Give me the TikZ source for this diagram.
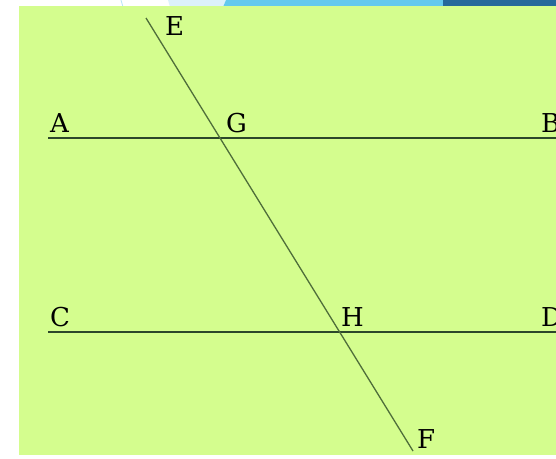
\documentclass[tikz,border=0pt]{standalone}
\usepackage{fontspec}
\setmainfont{DejaVu Serif}
\begin{document}
\begin{tikzpicture}[x=1pt,y=-1pt,
  lbl/.style={anchor=base west,inner sep=0pt,font=\fontsize{26}{26}\selectfont,text=black},
  parline/.style={draw=hline,line width=1.8pt},
  transline/.style={draw=tline,line width=1.3pt}]
\definecolor{bg}{HTML}{D4FD8E}
\definecolor{hline}{HTML}{2C472A}
\definecolor{tline}{HTML}{4F6E3A}
\definecolor{paleblue}{HTML}{DCF1FB}
\definecolor{midblue}{HTML}{62C9EE}
\definecolor{darkblue}{HTML}{25699B}
\useasboundingbox (0,0) rectangle (556,458);
\fill[white] (0,0) rectangle (556,458);
% top decoration
\fill[paleblue] (168,0) -- (226,0) -- (223,7) -- (170,7) -- cycle;
\fill[midblue] (226,0) -- (443,0) -- (443,7) -- (223,7) -- cycle;
\fill[darkblue] (443,0) -- (556,0) -- (556,7) -- (443,7) -- cycle;
\draw[paleblue!70!midblue,line width=0.8pt] (121,0) -- (123,7);
% background panel
\fill[bg] (19,6) rectangle (556,455);
% points
\coordinate (a1) at (48,138);
\coordinate (b1) at (556,138);
\coordinate (c1) at (48,332);
\coordinate (d1) at (556,332);
\coordinate (e1) at (146,18);
\coordinate (f1) at (413,451);
\draw[parline] (a1) -- (b1);
\draw[parline] (c1) -- (d1);
\draw[transline] (e1) -- (f1);
% labels
\node[lbl] (A) at (50,132) {A};
\node[lbl] (G) at (226,132) {G};
\node[lbl] (B) at (541,132) {B};
\node[lbl] (C) at (50,326) {C};
\node[lbl] (H) at (341,326) {H};
\node[lbl] (D) at (541,326) {D};
\node[lbl] (E) at (165,35) {E};
\node[lbl] (F) at (417,448) {F};
\end{tikzpicture}
\end{document}
